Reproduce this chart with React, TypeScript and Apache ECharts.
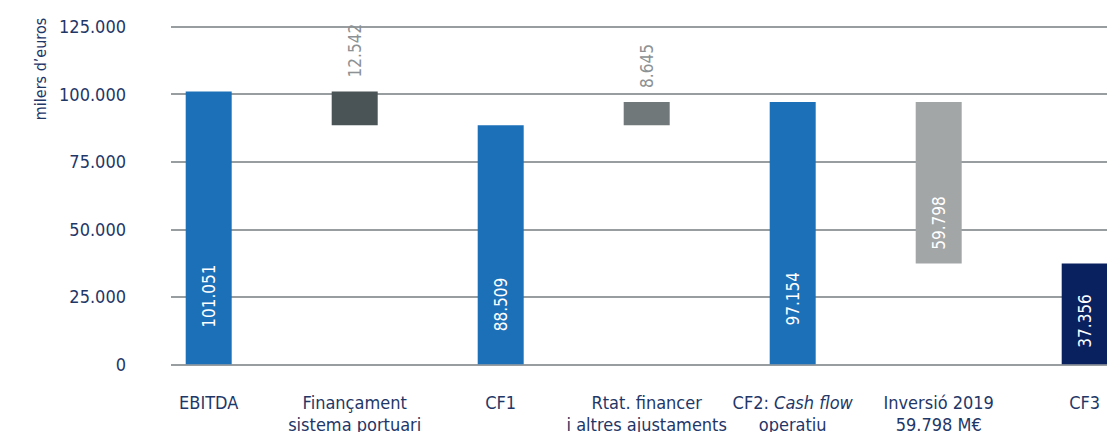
import React, { useEffect, useRef } from "react";
import * as echarts from "echarts";

const categories = [
  "EBITDA",
  "Finançament\nsistema portuari",
  "CF1",
  "Rtat. financer\ni altres ajustaments",
  "CF2: {it|Cash flow}\noperatiu",
  "Inversió 2019\n59.798 M€",
  "CF3",
];
const values = [101051, -12542, 88509, 8645, 97154, -59798, 37356];
const kinds = ["total", "delta", "total", "delta", "total", "delta", "total"];
const yTicks = [0, 25000, 50000, 75000, 100000, 125000];

const barColors = ["#1c70b8", "#4a5355", "#1c70b8", "#717879", "#1c70b8", "#a3a6a7", "#0a2160"];
const NAVY = "#1f3767";
const FONT = "'Liberation Sans Narrow', 'DejaVu Sans Condensed', 'Noto Sans', sans-serif";

const fmt = (v: number) => String(Math.abs(Math.round(v))).replace(/\B(?=(\d{3})+(?!\d))/g, ".");

export default function App() {
  const ref = useRef<HTMLDivElement>(null);
  useEffect(() => {
    if (!ref.current) return;
    const chart = echarts.init(ref.current, null, { renderer: "svg" });

    const bases: number[] = [];
    const heights: number[] = [];
    let prev = 0;
    values.forEach((v, i) => {
      if (kinds[i] === "total") {
        bases.push(0);
        heights.push(v);
        prev = v;
      } else {
        bases.push(Math.min(prev, prev + v));
        heights.push(Math.abs(v));
      }
    });

    const labelPos = (i: number) => {
      if (kinds[i] === "delta" && values[i] > -20000) {
        return {
          show: true,
          position: "top",
          distance: 14,
          rotate: 90,
          align: "left",
          verticalAlign: "middle",
          color: "#8c9193",
          fontSize: 17,
          fontFamily: FONT,
          formatter: () => fmt(values[i]),
        };
      }
      const frac = heights[i] < 50000 ? "57%" : "75%";
      return {
        show: true,
        position: ["50%", frac],
        rotate: 90,
        align: "center",
        verticalAlign: "middle",
        color: "#ffffff",
        fontSize: 17,
        fontFamily: FONT,
        formatter: () => fmt(values[i]),
      };
    };

    const top = 26.7;
    const bottom = 432 - 364.3;

    chart.setOption({
      animation: false,
      textStyle: { fontFamily: FONT },
      grid: [
        { left: 171, right: 0, top, bottom, outerBoundsMode: "none", containLabel: false },
        { left: 135.7, width: 1022, top, bottom, outerBoundsMode: "none", containLabel: false },
      ],
      xAxis: [
        { type: "value", gridIndex: 0, show: false, min: 0, max: 1 },
        {
          type: "category",
          gridIndex: 1,
          data: categories,
          axisLine: { show: false },
          axisTick: { show: false },
          axisLabel: {
            interval: 0,
            margin: 27,
            color: NAVY,
            fontSize: 18,
            lineHeight: 22,
            fontFamily: FONT,
            rich: {
              it: { fontStyle: "italic", color: NAVY, fontSize: 18, lineHeight: 22, fontFamily: FONT },
            },
          },
        },
      ],
      yAxis: [
        {
          type: "value",
          gridIndex: 0,
          min: 0,
          max: 125000,
          interval: 25000,
          axisLine: { show: false },
          axisTick: { show: false },
          splitLine: { show: true, lineStyle: { color: "#767d80", width: 1.5 } },
          axisLabel: {
            margin: 45,
            color: NAVY,
            fontSize: 18,
            fontFamily: FONT,
            formatter: (v: number) => (yTicks.includes(v) ? (v === 0 ? "0" : fmt(v)) : ""),
          },
        },
        { type: "value", gridIndex: 1, min: 0, max: 125000, show: false },
      ],
      graphic: [
        {
          type: "text",
          x: 40,
          y: 69,
          rotation: Math.PI / 2,
          style: {
            text: "milers d’euros",
            align: "center",
            verticalAlign: "middle",
            fontSize: 16,
            fontFamily: FONT,
            fill: NAVY,
          },
        },
      ],
      series: [
        {
          type: "bar",
          xAxisIndex: 1,
          yAxisIndex: 1,
          stack: "wf",
          barWidth: 46,
          itemStyle: { color: "transparent" },
          emphasis: { disabled: true },
          data: bases,
          silent: true,
        },
        {
          type: "bar",
          xAxisIndex: 1,
          yAxisIndex: 1,
          stack: "wf",
          barWidth: 46,
          data: heights.map((h, i) => ({
            value: h,
            itemStyle: { color: barColors[i] },
            label: labelPos(i),
          })),
        },
      ],
    });
    return () => chart.dispose();
  }, []);
  return <div ref={ref} style={{ width: 1107, height: 432, position: "absolute", left: 0, top: 0 }} />;
}
